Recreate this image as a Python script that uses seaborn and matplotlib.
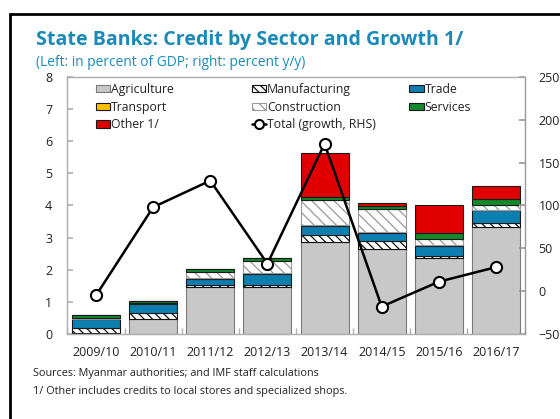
import numpy as np
import matplotlib
matplotlib.use("Agg")
import matplotlib.pyplot as plt
from matplotlib.lines import Line2D
from matplotlib.legend import Legend
import seaborn as sns

# Fiscal years
years = ["2009/10", "2010/11", "2011/12", "2012/13", "2013/14", "2014/15", "2015/16", "2016/17"]

# Credit by sector, percent of GDP (stacked)
agriculture   = [0.02, 0.47, 1.45, 1.45, 2.87, 2.65, 2.36, 3.34]
manufacturing = [0.17, 0.18, 0.07, 0.09, 0.21, 0.23, 0.08, 0.10]
trade         = [0.27, 0.28, 0.19, 0.34, 0.28, 0.26, 0.30, 0.41]
transport     = [0.02, 0.02, 0.03, 0.02, 0.03, 0.02, 0.02, 0.02]
construction  = [0.02, 0.00, 0.20, 0.38, 0.78, 0.73, 0.21, 0.16]
services      = [0.10, 0.08, 0.08, 0.08, 0.10, 0.08, 0.16, 0.16]
other         = [0.00, 0.00, 0.00, 0.00, 1.35, 0.10, 0.89, 0.42]

# Total credit growth, percent y/y (right axis)
growth = [-5, 98, 129, 32, 172, -18, 11, 28]

sns.set_theme(style="white")
plt.rcParams["font.family"] = ["Open Sans", "DejaVu Sans"]
plt.rcParams["hatch.linewidth"] = 0.9

fig = plt.figure(figsize=(5.6, 4.19), dpi=100)
ax = fig.add_axes([0.1204, 0.2029, 0.8163, 0.6134])

series = [
    ("Agriculture", agriculture, "#c8c8c8", "#7a7a7a", None),
    ("Manufacturing", manufacturing, "white", "#111111", "\\\\\\\\"),
    ("Trade", trade, "#0c7eb0", "#1a1a1a", None),
    ("Transport", transport, "#ffc000", "#1a1a1a", None),
    ("Construction", construction, "white", "#9a9a9a", "\\\\\\"),
    ("Services", services, "#118a2c", "#1a1a1a", None),
    ("Other 1/", other, "#e00000", "#1a1a1a", None),
]

bottom = np.zeros(len(years))
handles = {}
for name, vals, fc, ec, hatch in series:
    sns.barplot(x=years, y=vals, bottom=bottom, color=fc, saturation=1,
                width=0.84, edgecolor=ec, linewidth=0.8, hatch=hatch,
                errorbar=None, ax=ax)
    handles[name] = plt.Rectangle((0, 0), 1, 1, facecolor=fc, edgecolor=ec,
                                  linewidth=0.8, hatch=hatch)
    bottom = bottom + np.array(vals)

ax.set_ylim(0, 8)
ax.set_xlim(-0.5, len(years) - 0.5)
ax.set_yticks(range(0, 9))
ax.set_xlabel("")
ax.set_ylabel("")

ax2 = ax.twinx()
sns.lineplot(x=np.arange(len(years)), y=growth, ax=ax2, color="black",
             linewidth=1.8, marker="o", markersize=8,
             markerfacecolor="white", markeredgecolor="black",
             markeredgewidth=1.5)
ax2.set_ylim(-50, 250)
ax2.set_yticks(range(-50, 251, 50))
ax2.set_xlim(-0.5, len(years) - 0.5)

for a in (ax, ax2):
    for s in a.spines.values():
        s.set_color("#b0b0b0")
        s.set_linewidth(0.9)
ax2.spines["right"].set_color("#9a9a9a")

ax.tick_params(axis="y", direction="in", length=4, color="#b0b0b0",
               labelsize=9, labelcolor="#222222", pad=11, left=True)
ax.tick_params(axis="x", length=0, labelsize=9, labelcolor="#222222", pad=9)
ax2.tick_params(axis="y", direction="in", length=4, color="#9a9a9a",
                labelsize=9, labelcolor="#222222", pad=10, right=True)
ax.set_xticks(np.arange(len(years)))
ax.set_xticklabels(years)
ax.set_xticks(np.arange(len(years) + 1) - 0.5, minor=True)
ax.tick_params(axis="x", which="minor", direction="in", length=4,
               color="#b0b0b0", bottom=True)

line_handle = Line2D([0], [0], color="black", linewidth=1.8, marker="o",
                     markersize=6.5, markerfacecolor="white",
                     markeredgecolor="black", markeredgewidth=1.5)
all_handles = dict(handles)
all_handles["Total (growth, RHS)"] = line_handle

# Legend laid out as three columns across the top of the panel
columns = [
    (0.062, ["Agriculture", "Transport", "Other 1/"]),
    (0.403, ["Manufacturing", "Construction", "Total (growth, RHS)"]),
    (0.748, ["Trade", "Services"]),
]
for xpos, names in columns:
    leg = Legend(ax2, [all_handles[k] for k in names], names,
                 loc="upper left", bbox_to_anchor=(xpos, 0.978),
                 frameon=False, fontsize=8.8, handlelength=1.2,
                 handleheight=0.55, handletextpad=0.05,
                 labelspacing=0.4, borderpad=0, borderaxespad=0)
    for t in leg.get_texts():
        t.set_color("#222222")
    ax2.add_artist(leg)

# Header and notes
blue = "#1b8ab9"
fig.text(0.064, 0.9045, "State Banks: Credit by Sector and Growth 1/",
         fontsize=14.1, fontweight="bold", color=blue, va="center", ha="left")
fig.text(0.064, 0.852, "(Left: in percent of GDP; right: percent y/y)",
         fontsize=9.9, color=blue, va="center", ha="left")
fig.text(0.059, 0.1075, "Sources: Myanmar authorities; and IMF staff calculations",
         fontsize=7.8, color="#222222", va="center", ha="left")
fig.text(0.059, 0.0668, "1/ Other includes credits to local stores and specialized shops.",
         fontsize=7.8, color="#222222", va="center", ha="left")

# Panel frame along the top and left edges
fig.add_artist(Line2D([10 / 560, 10 / 560], [0, 1 - 14 / 419], color="black",
                      linewidth=2, transform=fig.transFigure))
fig.add_artist(Line2D([10 / 560, 1], [1 - 14 / 419, 1 - 14 / 419], color="black",
                      linewidth=2, transform=fig.transFigure))

fig.savefig("out.png", dpi=100)
